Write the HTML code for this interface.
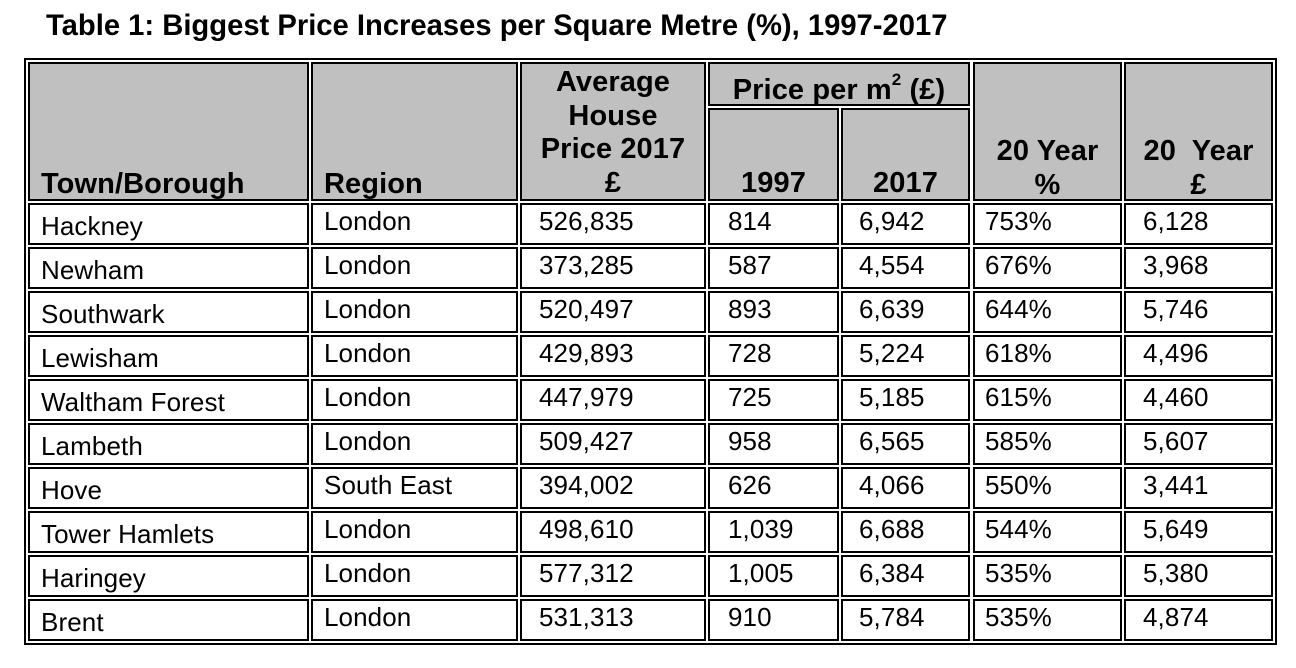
<!DOCTYPE html>
<html>
<head>
<meta charset="utf-8">
<style>
html,body{margin:0;padding:0;background:#fff;}
body{width:1296px;height:668px;position:relative;overflow:hidden;font-family:"Liberation Sans",Arial,sans-serif;color:#000;}
.title{position:absolute;left:46px;top:11.5px;font-size:29.2px;line-height:29px;font-weight:bold;white-space:nowrap;}
.outer{position:absolute;left:24px;top:58px;width:1253px;height:587px;border:2px solid #000;box-sizing:border-box;}
.h{position:absolute;background:#c0c0c0;border:2px solid #000;box-sizing:border-box;}
.hb{position:absolute;font-size:29px;line-height:34px;font-weight:bold;letter-spacing:0.1px;white-space:nowrap;}
.hc{text-align:center;}
.r{position:absolute;left:0;width:1296px;height:42px;}
.c{position:absolute;top:0;height:42px;border:2px solid #000;box-sizing:border-box;background:#fff;}
.x{position:absolute;top:5px;font-size:26px;line-height:26px;letter-spacing:0.1px;white-space:nowrap;}
.x1{top:10px;}
</style>
</head>
<body>
<div class="title">Table 1: Biggest Price Increases per Square Metre (%), 1997-2017</div>
<div class="outer"></div>

<!-- header cells -->
<div class="h" style="left:28px;top:62px;width:281px;height:139px;"></div>
<div class="h" style="left:311px;top:62px;width:207px;height:139px;"></div>
<div class="h" style="left:520px;top:62px;width:186px;height:139px;"></div>
<div class="h" style="left:708px;top:62px;width:262px;height:44px;"></div>
<div class="h" style="left:708px;top:108px;width:131px;height:93px;"></div>
<div class="h" style="left:841px;top:108px;width:129px;height:93px;"></div>
<div class="h" style="left:973px;top:62px;width:149px;height:139px;"></div>
<div class="h" style="left:1124px;top:62px;width:149px;height:139px;"></div>

<div class="hb" style="left:41px;top:166.5px;">Town/Borough</div>
<div class="hb" style="left:324px;top:166.5px;">Region</div>
<div class="hb hc" style="left:520px;top:66px;width:186px;line-height:33.6px;">Average<br>House<br>Price 2017<br>£</div>
<div class="hb hc" style="left:708px;top:72.5px;width:262px;">Price per m<span style="font-size:17px;position:relative;top:-14px;">2</span> (£)</div>
<div class="hb hc" style="left:708px;top:165.5px;width:131px;">1997</div>
<div class="hb hc" style="left:841px;top:165.5px;width:129px;">2017</div>
<div class="hb hc" style="left:973px;top:135px;width:149px;line-height:33.6px;">20 Year<br>%</div>
<div class="hb hc" style="left:1124px;top:135px;width:149px;line-height:33.6px;">20&nbsp; Year<br>£</div>

<!-- rows -->
<div class="r" style="top:203px;">
<div class="c" style="left:28px;width:281px;"></div><div class="c" style="left:311px;width:207px;"></div><div class="c" style="left:520px;width:186px;"></div><div class="c" style="left:708px;width:131px;"></div><div class="c" style="left:841px;width:129px;"></div><div class="c" style="left:973px;width:149px;"></div><div class="c" style="left:1124px;width:149px;"></div>
<div class="x x1" style="left:41px;">Hackney</div><div class="x" style="left:324px;">London</div><div class="x" style="left:539px;">526,835</div><div class="x" style="left:728px;">814</div><div class="x" style="left:859px;">6,942</div><div class="x" style="left:985px;">753%</div><div class="x" style="left:1143px;">6,128</div>
</div>

<div class="r" style="top:247px;">
<div class="c" style="left:28px;width:281px;"></div><div class="c" style="left:311px;width:207px;"></div><div class="c" style="left:520px;width:186px;"></div><div class="c" style="left:708px;width:131px;"></div><div class="c" style="left:841px;width:129px;"></div><div class="c" style="left:973px;width:149px;"></div><div class="c" style="left:1124px;width:149px;"></div>
<div class="x x1" style="left:41px;">Newham</div><div class="x" style="left:324px;">London</div><div class="x" style="left:539px;">373,285</div><div class="x" style="left:728px;">587</div><div class="x" style="left:859px;">4,554</div><div class="x" style="left:985px;">676%</div><div class="x" style="left:1143px;">3,968</div>
</div>

<div class="r" style="top:291px;">
<div class="c" style="left:28px;width:281px;"></div><div class="c" style="left:311px;width:207px;"></div><div class="c" style="left:520px;width:186px;"></div><div class="c" style="left:708px;width:131px;"></div><div class="c" style="left:841px;width:129px;"></div><div class="c" style="left:973px;width:149px;"></div><div class="c" style="left:1124px;width:149px;"></div>
<div class="x x1" style="left:41px;">Southwark</div><div class="x" style="left:324px;">London</div><div class="x" style="left:539px;">520,497</div><div class="x" style="left:728px;">893</div><div class="x" style="left:859px;">6,639</div><div class="x" style="left:985px;">644%</div><div class="x" style="left:1143px;">5,746</div>
</div>

<div class="r" style="top:335px;">
<div class="c" style="left:28px;width:281px;"></div><div class="c" style="left:311px;width:207px;"></div><div class="c" style="left:520px;width:186px;"></div><div class="c" style="left:708px;width:131px;"></div><div class="c" style="left:841px;width:129px;"></div><div class="c" style="left:973px;width:149px;"></div><div class="c" style="left:1124px;width:149px;"></div>
<div class="x x1" style="left:41px;">Lewisham</div><div class="x" style="left:324px;">London</div><div class="x" style="left:539px;">429,893</div><div class="x" style="left:728px;">728</div><div class="x" style="left:859px;">5,224</div><div class="x" style="left:985px;">618%</div><div class="x" style="left:1143px;">4,496</div>
</div>

<div class="r" style="top:379px;">
<div class="c" style="left:28px;width:281px;"></div><div class="c" style="left:311px;width:207px;"></div><div class="c" style="left:520px;width:186px;"></div><div class="c" style="left:708px;width:131px;"></div><div class="c" style="left:841px;width:129px;"></div><div class="c" style="left:973px;width:149px;"></div><div class="c" style="left:1124px;width:149px;"></div>
<div class="x x1" style="left:41px;">Waltham Forest</div><div class="x" style="left:324px;">London</div><div class="x" style="left:539px;">447,979</div><div class="x" style="left:728px;">725</div><div class="x" style="left:859px;">5,185</div><div class="x" style="left:985px;">615%</div><div class="x" style="left:1143px;">4,460</div>
</div>

<div class="r" style="top:423px;">
<div class="c" style="left:28px;width:281px;"></div><div class="c" style="left:311px;width:207px;"></div><div class="c" style="left:520px;width:186px;"></div><div class="c" style="left:708px;width:131px;"></div><div class="c" style="left:841px;width:129px;"></div><div class="c" style="left:973px;width:149px;"></div><div class="c" style="left:1124px;width:149px;"></div>
<div class="x x1" style="left:41px;">Lambeth</div><div class="x" style="left:324px;">London</div><div class="x" style="left:539px;">509,427</div><div class="x" style="left:728px;">958</div><div class="x" style="left:859px;">6,565</div><div class="x" style="left:985px;">585%</div><div class="x" style="left:1143px;">5,607</div>
</div>

<div class="r" style="top:467px;">
<div class="c" style="left:28px;width:281px;"></div><div class="c" style="left:311px;width:207px;"></div><div class="c" style="left:520px;width:186px;"></div><div class="c" style="left:708px;width:131px;"></div><div class="c" style="left:841px;width:129px;"></div><div class="c" style="left:973px;width:149px;"></div><div class="c" style="left:1124px;width:149px;"></div>
<div class="x x1" style="left:41px;">Hove</div><div class="x" style="left:324px;">South East</div><div class="x" style="left:539px;">394,002</div><div class="x" style="left:728px;">626</div><div class="x" style="left:859px;">4,066</div><div class="x" style="left:985px;">550%</div><div class="x" style="left:1143px;">3,441</div>
</div>

<div class="r" style="top:511px;">
<div class="c" style="left:28px;width:281px;"></div><div class="c" style="left:311px;width:207px;"></div><div class="c" style="left:520px;width:186px;"></div><div class="c" style="left:708px;width:131px;"></div><div class="c" style="left:841px;width:129px;"></div><div class="c" style="left:973px;width:149px;"></div><div class="c" style="left:1124px;width:149px;"></div>
<div class="x x1" style="left:41px;">Tower Hamlets</div><div class="x" style="left:324px;">London</div><div class="x" style="left:539px;">498,610</div><div class="x" style="left:728px;">1,039</div><div class="x" style="left:859px;">6,688</div><div class="x" style="left:985px;">544%</div><div class="x" style="left:1143px;">5,649</div>
</div>

<div class="r" style="top:555px;">
<div class="c" style="left:28px;width:281px;"></div><div class="c" style="left:311px;width:207px;"></div><div class="c" style="left:520px;width:186px;"></div><div class="c" style="left:708px;width:131px;"></div><div class="c" style="left:841px;width:129px;"></div><div class="c" style="left:973px;width:149px;"></div><div class="c" style="left:1124px;width:149px;"></div>
<div class="x x1" style="left:41px;">Haringey</div><div class="x" style="left:324px;">London</div><div class="x" style="left:539px;">577,312</div><div class="x" style="left:728px;">1,005</div><div class="x" style="left:859px;">6,384</div><div class="x" style="left:985px;">535%</div><div class="x" style="left:1143px;">5,380</div>
</div>

<div class="r" style="top:599px;">
<div class="c" style="left:28px;width:281px;"></div><div class="c" style="left:311px;width:207px;"></div><div class="c" style="left:520px;width:186px;"></div><div class="c" style="left:708px;width:131px;"></div><div class="c" style="left:841px;width:129px;"></div><div class="c" style="left:973px;width:149px;"></div><div class="c" style="left:1124px;width:149px;"></div>
<div class="x x1" style="left:41px;">Brent</div><div class="x" style="left:324px;">London</div><div class="x" style="left:539px;">531,313</div><div class="x" style="left:728px;">910</div><div class="x" style="left:859px;">5,784</div><div class="x" style="left:985px;">535%</div><div class="x" style="left:1143px;">4,874</div>
</div>

</body>
</html>
